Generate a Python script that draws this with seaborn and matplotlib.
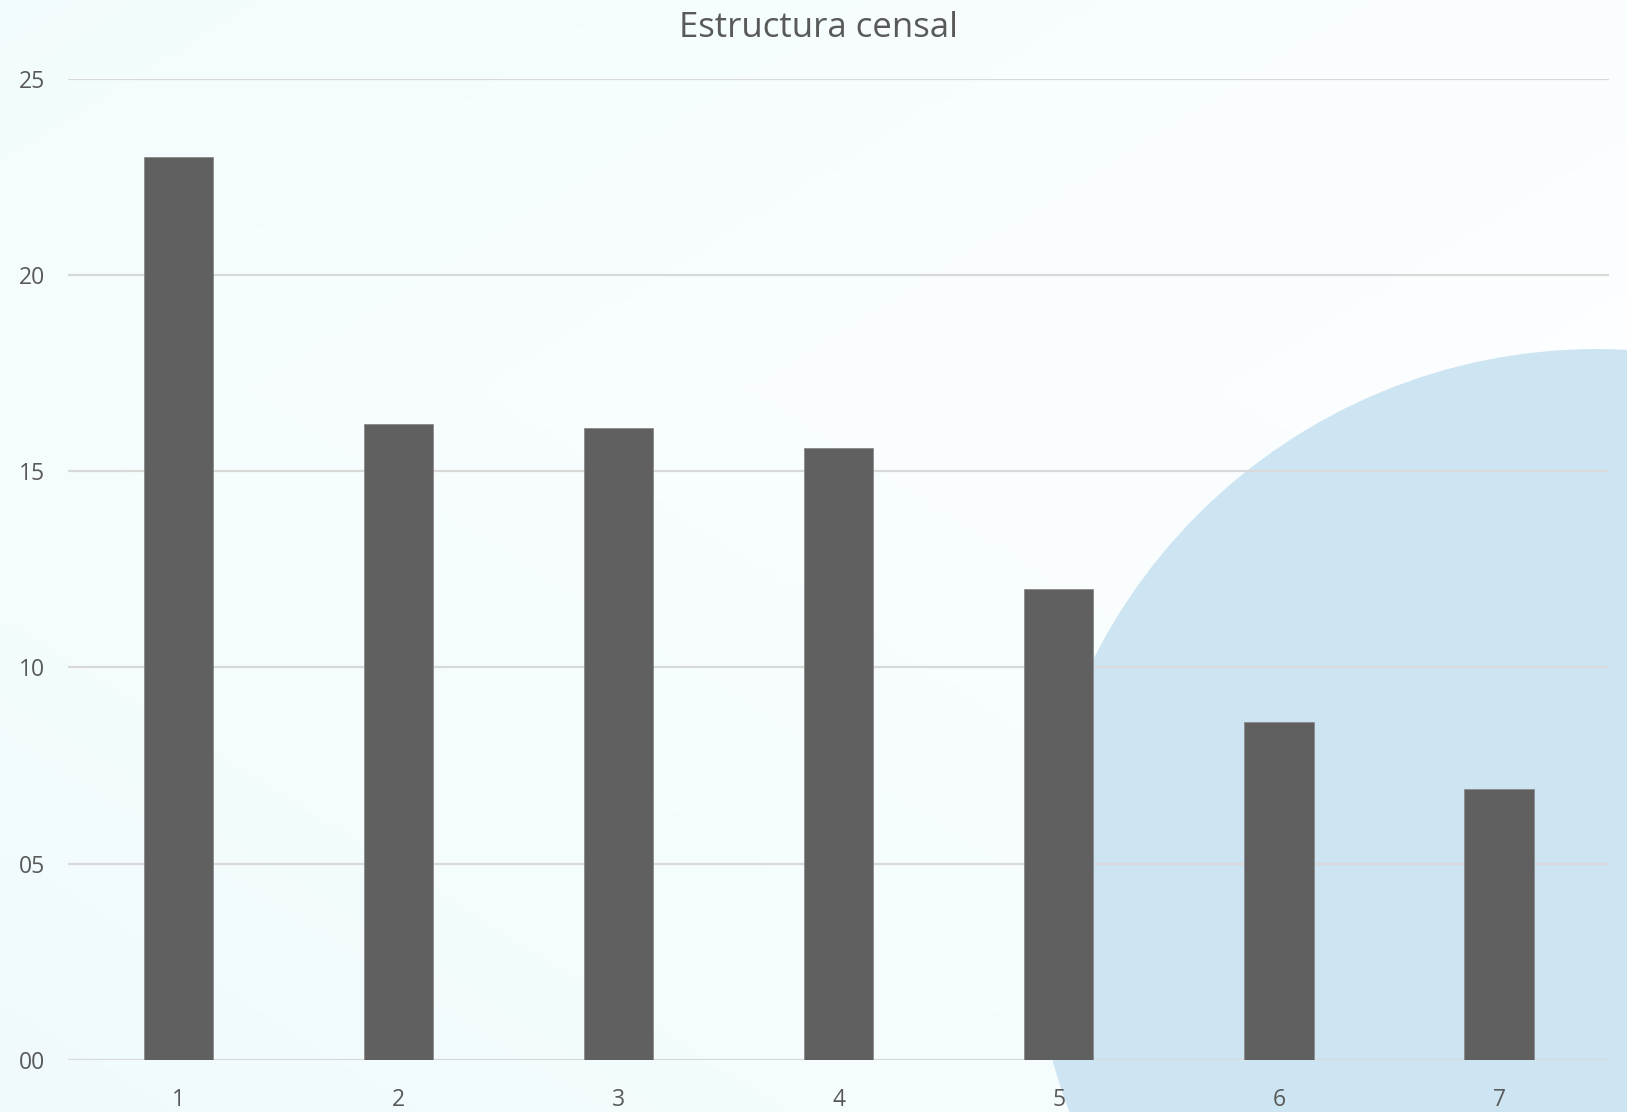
import numpy as np
import pandas as pd
import matplotlib
matplotlib.use("Agg")
import matplotlib.pyplot as plt
from matplotlib.patches import Circle
from matplotlib.colors import LinearSegmentedColormap
from matplotlib.ticker import FixedLocator, FuncFormatter
import seaborn as sns

# Data
categories = ["1", "2", "3", "4", "5", "6", "7"]
values = [23.0, 16.2, 16.1, 15.6, 12.0, 8.6, 6.9]
y_ticks = [0, 5, 10, 15, 20, 25]
title = "Estructura censal"

sns.set_theme(style="white")
plt.rcParams["font.family"] = ["Open Sans", "DejaVu Sans"]

W, H = 1627, 1112
fig = plt.figure(figsize=(W / 100, H / 100), dpi=100)

# Soft background gradient (pale cyan at the left edge -> near white)
bg = fig.add_axes([0, 0, 1, 1], zorder=-3)
bg.set_axis_off()
yy, xx = np.mgrid[0:1:200j, 0:1:300j]
t = np.clip(0.55 * xx + 0.5 * (1 - np.abs(yy - 0.35) * 1.2), 0, 1)
grad = LinearSegmentedColormap.from_list("bg", ["#EEFAFD", "#F6FDFE", "#FCFEFF"])
bg.imshow(t, cmap=grad, aspect="auto", extent=[0, 1, 0, 1], origin="upper", vmin=0, vmax=1)
bg.set_xlim(0, 1)
bg.set_ylim(0, 1)

# Large decorative circle in the lower right
circ = Circle((15.97, 1.99), 5.64, transform=fig.dpi_scale_trans,
              facecolor="#CDE5F2", edgecolor="none", zorder=-2)
fig.patches.append(circ)

ax = fig.add_axes([0.042, 0.047, 0.947, 0.882], zorder=0)
ax.patch.set_alpha(0)

df = pd.DataFrame({"cat": categories, "val": values})
sns.barplot(data=df, x="cat", y="val", color="#606060", width=0.315,
            saturation=1, edgecolor="#8a8a8a", linewidth=0.6, ax=ax, zorder=3)

ax.set_ylim(0, 25)
ax.set_xlim(-0.5, len(categories) - 0.5)
ax.yaxis.set_major_locator(FixedLocator(y_ticks))
ax.yaxis.set_major_formatter(FuncFormatter(lambda v, p: f"{int(v):02d}"))
for yv in y_ticks:
    ax.axhline(yv, color="#D9D9D9", linewidth=1.6, zorder=1)

for s in ax.spines.values():
    s.set_visible(False)
ax.tick_params(axis="both", length=0, labelsize=16.5, labelcolor="#595959")
ax.tick_params(axis="y", pad=16.5)
ax.tick_params(axis="x", pad=20)
ax.set_xlabel("")
ax.set_ylabel("")
ax.grid(False)

fig.text(0.503, 0.975, title, ha="center", va="center", fontsize=25, color="#595959")

fig.savefig("out.png", dpi=100)
